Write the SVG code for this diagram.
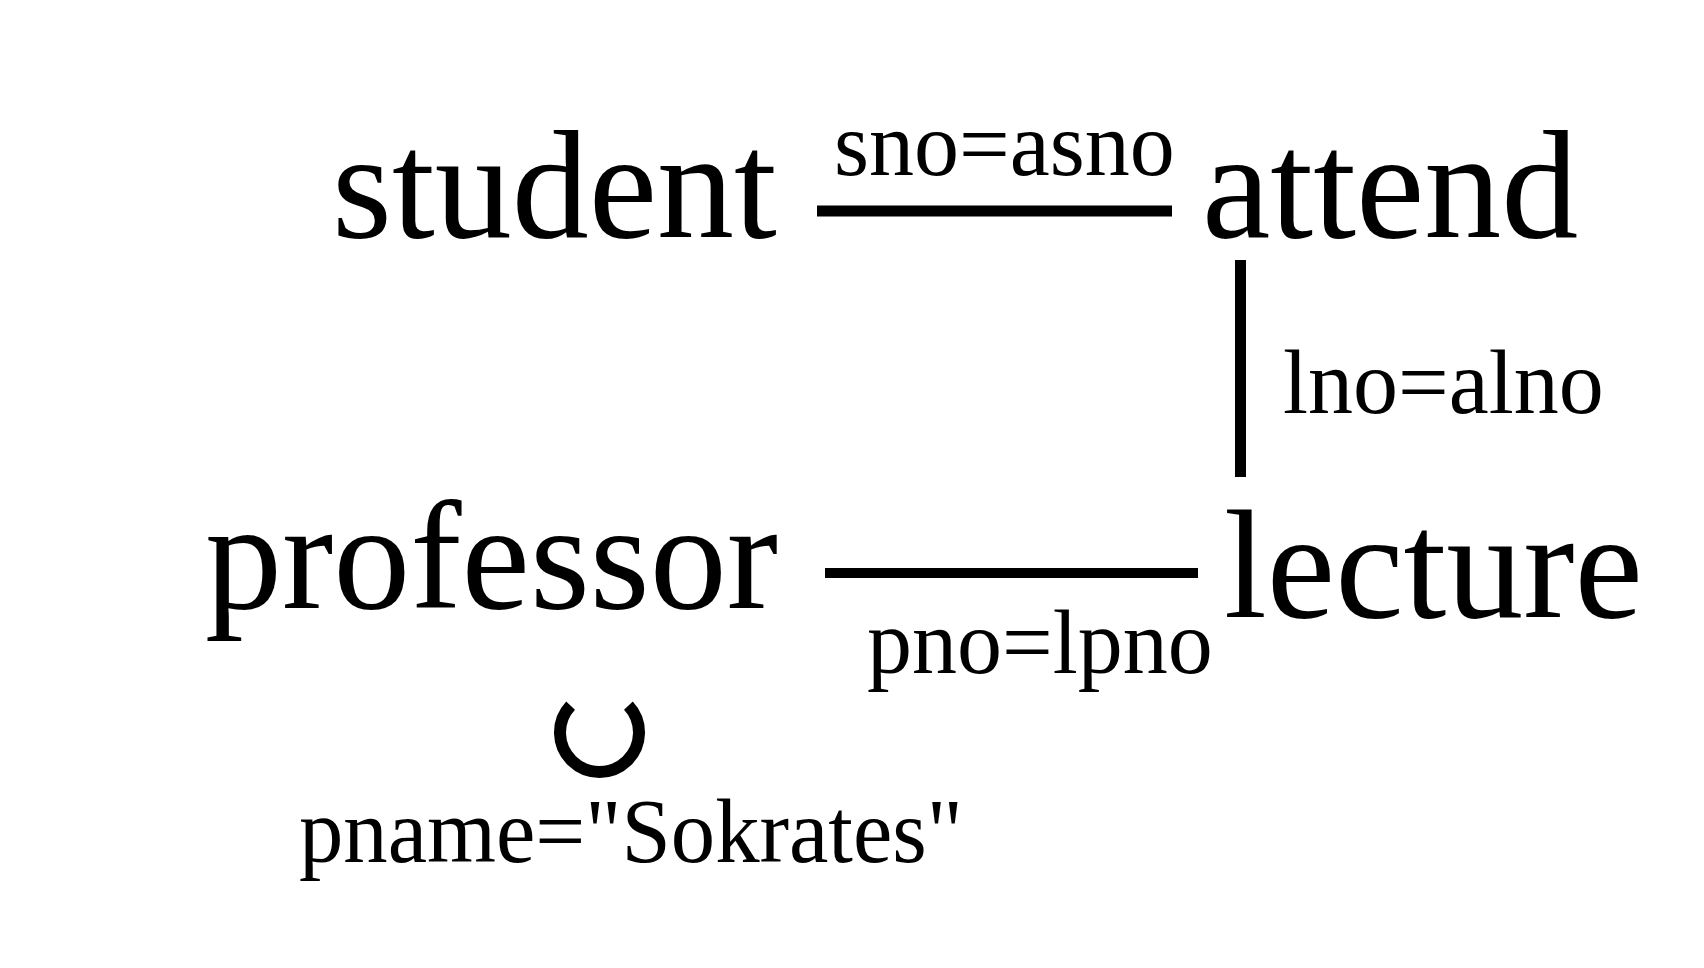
<svg xmlns="http://www.w3.org/2000/svg" width="1704" height="968" viewBox="0 0 1704 968">
<style>
.big{font-family:"Liberation Serif","Times New Roman",serif;font-size:154px;fill:#000}
.small{font-family:"Liberation Serif","Times New Roman",serif;font-size:90px;fill:#000}
.conn{stroke:#000;fill:none}
</style>
<rect width="1704" height="968" fill="#fff"/>
<g id="student"><text class="big" x="332" y="237">student</text></g>
<g id="attend"><text class="big" x="1202" y="237">attend</text></g>
<g id="professor"><text class="big" x="205" y="608">professor</text></g>
<g id="lecture"><text class="big" x="1224" y="617">lecture</text></g>
<g id="selection">
<path class="conn" stroke-width="12" d="M570.6 705.6 A39.5 39.5 0 1 0 628.4 705.6"/>
<text class="small" x="299" y="862" textLength="664" lengthAdjust="spacingAndGlyphs">pname="Sokrates"</text>
</g>
<g id="connectors">
<line class="conn" x1="817" y1="211" x2="1172" y2="211" stroke-width="11"/>
<text class="small" x="834" y="175">sno=asno</text>
<line class="conn" x1="1240.5" y1="260" x2="1240.5" y2="477" stroke-width="11"/>
<text class="small" x="1283" y="413">lno=alno</text>
<line class="conn" x1="825" y1="573" x2="1198" y2="573" stroke-width="10"/>
<text class="small" x="867" y="673">pno=lpno</text>
</g>
</svg>
